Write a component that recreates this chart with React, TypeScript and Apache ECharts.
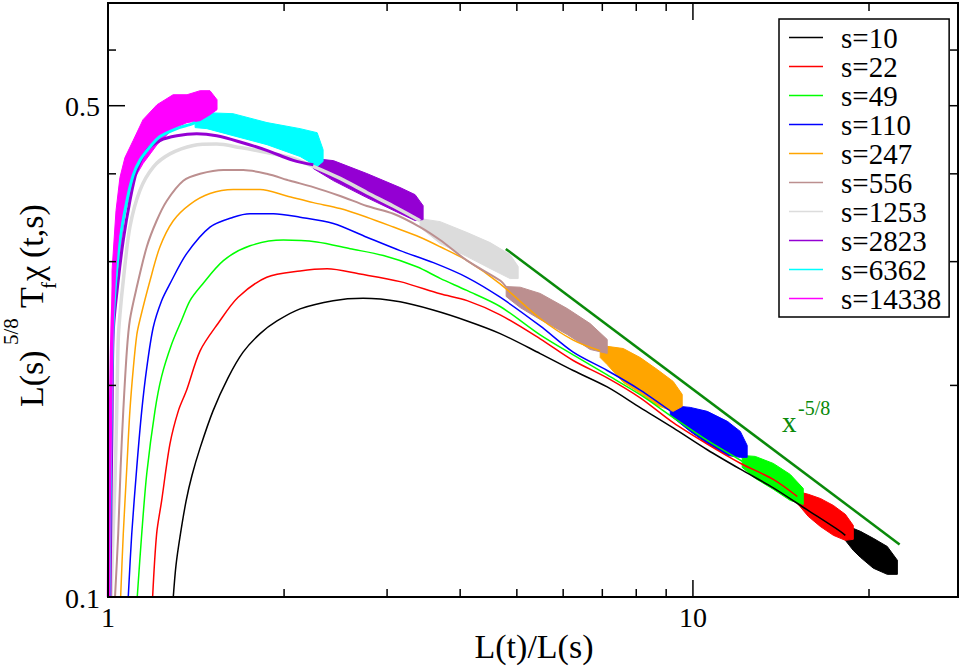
import React, { useEffect, useRef } from 'react';
import * as echarts from 'echarts';

// ---- axes ----
const X_MIN = 1;
const X_MAX = 28.39;
const Y_MIN = 0.1;
const Y_MAX = 0.7;
const xMinorTicks = [2, 3, 4, 5, 6, 7, 8, 9, 20];
const xMajorTicks = [10];
const yMinorTicks = [0.2, 0.3, 0.4, 0.6];
const yMajorTicks = [0.5];
const xTickLabels = [1, 10];
const yTickLabels = [0.1, 0.5];

// ---- series ----
const seriesNames = ['s=10', 's=22', 's=49', 's=110', 's=247', 's=556', 's=1253', 's=2823', 's=6362', 's=14338'];
const seriesColors = ['#000000', '#ff0000', '#00ff00', '#0000ff', '#ffa500', '#bc8f8f', '#dcdcdc', '#9400d3', '#00ffff', '#ff00ff'];

// [x, y] along the smooth part of each curve
const s10Line = [[1.293,0.100],[1.307,0.111],[1.328,0.122],[1.360,0.137],[1.392,0.149],[1.437,0.163],[1.512,0.184],[1.604,0.205],[1.702,0.223],[1.820,0.237],[1.945,0.247],[2.130,0.257],[2.426,0.264],[2.730,0.266],[3.158,0.263],[3.596,0.256],[4.111,0.247],[4.682,0.237],[5.481,0.222],[6.242,0.210],[7.136,0.199],[8.126,0.186],[9.254,0.174],[10.58,0.162],[12.05,0.152],[13.72,0.143],[15.69,0.133],[17.86,0.124],[18.22,0.1224]];
const s22Line = [[1.192,0.100],[1.211,0.123],[1.235,0.137],[1.276,0.165],[1.319,0.184],[1.363,0.197],[1.437,0.224],[1.542,0.245],[1.669,0.267],[1.868,0.285],[2.130,0.291],[2.369,0.293],[2.698,0.288],[3.158,0.281],[3.697,0.270],[4.111,0.264],[4.682,0.252],[5.481,0.233],[6.242,0.217],[7.136,0.205],[8.126,0.192],[9.254,0.177],[10.58,0.165],[12.05,0.155],[13.72,0.147],[15.08,0.139]];
const s49Line = [[1.122,0.100],[1.142,0.123],[1.165,0.150],[1.203,0.184],[1.235,0.206],[1.285,0.229],[1.337,0.248],[1.381,0.264],[1.437,0.276],[1.575,0.301],[1.749,0.316],[1.994,0.322],[2.275,0.320],[2.594,0.313],[2.957,0.306],[3.373,0.295],[3.697,0.284],[4.106,0.273],[4.682,0.259],[5.481,0.236],[6.242,0.221],[7.136,0.207],[8.126,0.194],[9.254,0.180],[10.58,0.167],[12.14,0.156]];
const s110Line = [[1.083,0.100],[1.098,0.123],[1.120,0.153],[1.142,0.184],[1.165,0.212],[1.195,0.242],[1.235,0.264],[1.276,0.279],[1.363,0.308],[1.494,0.336],[1.637,0.347],[1.749,0.351],[1.918,0.351],[2.130,0.347],[2.428,0.340],[2.770,0.325],[3.158,0.311],[3.600,0.299],[4.106,0.285],[4.682,0.267],[5.481,0.243],[6.242,0.223],[7.136,0.210],[8.126,0.197],[9.147,0.184]];
const s247Line = [[1.051,0.100],[1.062,0.123],[1.077,0.153],[1.090,0.184],[1.105,0.212],[1.120,0.236],[1.134,0.248],[1.180,0.282],[1.227,0.315],[1.293,0.343],[1.381,0.362],[1.494,0.375],[1.637,0.380],[1.820,0.380],[2.021,0.372],[2.244,0.364],[2.494,0.357],[2.770,0.347],[3.076,0.336],[3.416,0.325],[3.697,0.315],[4.111,0.301],[4.682,0.279],[5.481,0.249],[6.242,0.232],[6.942,0.224]];
const s556Line = [[1.028,0.100],[1.041,0.123],[1.051,0.153],[1.062,0.184],[1.077,0.224],[1.090,0.248],[1.120,0.276],[1.165,0.315],[1.211,0.343],[1.260,0.366],[1.345,0.391],[1.437,0.400],[1.575,0.405],[1.703,0.405],[1.868,0.400],[2.048,0.391],[2.244,0.383],[2.494,0.372],[2.770,0.360],[3.076,0.351],[3.416,0.336],[3.697,0.322],[4.111,0.301],[4.682,0.282],[4.794,0.276]];
const s1253Line = [[1.012,0.100],[1.020,0.123],[1.028,0.147],[1.035,0.184],[1.041,0.232],[1.048,0.252],[1.062,0.282],[1.090,0.336],[1.134,0.379],[1.195,0.409],[1.276,0.427],[1.399,0.439],[1.534,0.441],[1.682,0.436],[1.868,0.429],[2.048,0.422],[2.242,0.410],[2.494,0.394],[2.773,0.376],[3.072,0.360],[3.416,0.343]];
const s2823Line = [[1.008,0.100],[1.012,0.137],[1.016,0.178],[1.021,0.239],[1.041,0.282],[1.062,0.322],[1.090,0.366],[1.120,0.404],[1.165,0.432],[1.227,0.446],[1.311,0.453],[1.418,0.456],[1.534,0.453],[1.682,0.444],[1.868,0.432],[2.074,0.418],[2.244,0.412]];
const s6362Line = [[1.004,0.100],[1.008,0.137],[1.012,0.178],[1.018,0.232],[1.028,0.273],[1.048,0.322],[1.077,0.366],[1.104,0.398],[1.134,0.418],[1.180,0.437],[1.227,0.452],[1.311,0.464],[1.381,0.470],[1.409,0.473]];
const s14338Line = [[1.002,0.100],[1.004,0.129],[1.008,0.162],[1.012,0.203],[1.016,0.239],[1.022,0.273],[1.032,0.311],[1.048,0.349],[1.069,0.385]];

// [x, lower, upper] envelope of the noisy end of each curve
const s10Band = [[18.22,0.1204,0.1244],[18.80,0.1165,0.1252],[19.33,0.1139,0.1240],[20.34,0.1099,0.1212],[21.49,0.1077,0.1180],[22.36,0.1077,0.1128]];
const s22Band = [[15.08,0.1359,0.1413],[15.75,0.1302,0.1400],[16.51,0.1260,0.1381],[17.38,0.1224,0.1350],[18.22,0.1204,0.1311],[18.80,0.1208,0.1264]];
const s49Band = [[12.14,0.1529,0.1590],[12.78,0.1475,0.1585],[13.72,0.1423,0.1549],[14.67,0.1372,0.1494],[15.44,0.1354,0.1427]];
const s110Band = [[9.147,0.1813,0.1873],[9.894,0.1720,0.1861],[10.58,0.1653,0.1837],[11.45,0.1590,0.1778],[12.05,0.1580,0.1720],[12.38,0.1580,0.1643]];
const s247Band = [[6.942,0.2191,0.2265],[7.136,0.2141,0.2273],[7.600,0.2020,0.2257],[8.126,0.1949,0.2191],[8.689,0.1873,0.2107],[9.254,0.1837,0.2026],[9.587,0.1867,0.1942]];
const s556Band = [[4.794,0.2676,0.2765],[5.066,0.2581,0.2759],[5.481,0.2482,0.2703],[6.096,0.2363,0.2573],[6.673,0.2250,0.2449],[7.136,0.2221,0.2325]];
const s1253Band = [[3.416,0.3357,0.3454],[3.697,0.3183,0.3420],[4.111,0.3050,0.3300],[4.501,0.2933,0.3193],[4.870,0.2838,0.3070],[5.026,0.2838,0.2952]];
const s2823Band = [[2.244,0.4070,0.4205],[2.428,0.3912,0.4177],[2.770,0.3700,0.4004],[3.158,0.3512,0.3824],[3.350,0.3432,0.3736],[3.457,0.3443,0.3604]];
const s6362Band = [[1.409,0.4654,0.4808],[1.476,0.4638,0.4887],[1.636,0.4533,0.4871],[1.870,0.4401,0.4731],[2.130,0.4234,0.4638],[2.278,0.4097,0.4577],[2.332,0.4165,0.4330]];
const s14338Band = [[1.016,0.2394,0.2914],[1.032,0.2820,0.3545],[1.048,0.3081,0.3951],[1.069,0.3508,0.4219],[1.104,0.3912,0.4460],[1.148,0.4137,0.4777],[1.213,0.4401,0.5017],[1.292,0.4638,0.5183],[1.365,0.4731,0.5183],[1.437,0.4761,0.5252],[1.494,0.4855,0.5252],[1.536,0.4936,0.5099]];

const lineData = [s10Line, s22Line, s49Line, s110Line, s247Line, s556Line, s1253Line, s2823Line, s6362Line, s14338Line];
const bandData = [s10Band, s22Band, s49Band, s110Band, s247Band, s556Band, s1253Band, s2823Band, s6362Band, s14338Band];
const lineWidths = [1.5, 1.5, 1.5, 1.5, 1.5, 2, 3.5, 3, 3, 3.5];

// reference power law x^(-5/8)
const guideLine = [[4.787, 0.3128], [22.56, 0.1188]];
const guideColor = '#0a8a0a';

const SERIF = 'Liberation Serif';

function txt(text: string, size: number, fill: string, align: string, extra: any = {}) {
  return { text, fontFamily: SERIF, fontSize: size, fill, align, verticalAlign: 'middle', ...extra };
}

function bandRenderer(band: number[][], color: string) {
  return (params: any, api: any) => {
    if (params.dataIndex !== 0) return null;
    const top = band.map((d) => api.coord([d[0], d[2]]));
    const bot = band.map((d) => api.coord([d[0], d[1]])).reverse();
    return {
      type: 'polygon',
      shape: { points: top.concat(bot) },
      style: { fill: color, stroke: color, lineWidth: 1 },
    };
  };
}

function xTickRenderer(len: number) {
  return (params: any, api: any) => {
    const v = api.value(0);
    const b = api.coord([v, Y_MIN]);
    const t = api.coord([v, Y_MAX]);
    const st = { stroke: '#000', lineWidth: 1.5 };
    return {
      type: 'group',
      children: [
        { type: 'line', shape: { x1: b[0], y1: b[1], x2: b[0], y2: b[1] - len }, style: st },
        { type: 'line', shape: { x1: t[0], y1: t[1], x2: t[0], y2: t[1] + len }, style: st },
      ],
    };
  };
}

function yTickRenderer(len: number) {
  return (params: any, api: any) => {
    const v = api.value(1);
    const l = api.coord([X_MIN, v]);
    const r = api.coord([X_MAX, v]);
    const st = { stroke: '#000', lineWidth: 1.5 };
    return {
      type: 'group',
      children: [
        { type: 'line', shape: { x1: l[0], y1: l[1], x2: l[0] + len, y2: l[1] }, style: st },
        { type: 'line', shape: { x1: r[0], y1: r[1], x2: r[0] - len, y2: r[1] }, style: st },
      ],
    };
  };
}

function xLabelRenderer(params: any, api: any) {
  const v = api.value(0);
  const p = api.coord([v, Y_MIN]);
  return { type: 'text', x: p[0], y: p[1] + 20, style: txt(String(v), 28, '#000', 'center') };
}

function yLabelRenderer(params: any, api: any) {
  const v = api.value(1);
  const p = api.coord([X_MIN, v]);
  return { type: 'text', x: p[0] - 8, y: p[1] + 1, style: txt(String(v), 28, '#000', 'right') };
}

function buildOption() {
  const series: any[] = [];
  seriesNames.forEach((name, i) => {
    series.push({
      name,
      type: 'line',
      data: lineData[i],
      color: seriesColors[i],
      showSymbol: false,
      symbol: 'none',
      smooth: 0.3,
      lineStyle: { color: seriesColors[i], width: lineWidths[i] },
      silent: true,
    });
    series.push({
      name: name + ' (noisy)',
      type: 'custom',
      data: bandData[i],
      encode: { x: 0, y: [1, 2] },
      renderItem: bandRenderer(bandData[i], seriesColors[i]),
      silent: true,
    });
  });
  series.push({
    name: 'x^-5/8',
    type: 'line',
    data: guideLine,
    showSymbol: false,
    symbol: 'none',
    lineStyle: { color: guideColor, width: 2.5 },
    color: guideColor,
    silent: true,
  });
  series.push({ type: 'custom', name: 'xMinor', data: xMinorTicks.map((v) => [v, Y_MIN]), renderItem: xTickRenderer(8), silent: true, z: 5 });
  series.push({ type: 'custom', name: 'xMajor', data: xMajorTicks.map((v) => [v, Y_MIN]), renderItem: xTickRenderer(17), silent: true, z: 5 });
  series.push({ type: 'custom', name: 'yMinor', data: yMinorTicks.map((v) => [X_MIN, v]), renderItem: yTickRenderer(8), silent: true, z: 5 });
  series.push({ type: 'custom', name: 'yMajor', data: yMajorTicks.map((v) => [X_MIN, v]), renderItem: yTickRenderer(17), silent: true, z: 5 });
  series.push({ type: 'custom', name: 'xLabels', data: xTickLabels.map((v) => [v, Y_MIN]), renderItem: xLabelRenderer, silent: true, z: 5 });
  series.push({ type: 'custom', name: 'yLabels', data: yTickLabels.map((v) => [X_MIN, v]), renderItem: yLabelRenderer, silent: true, z: 5 });

  const hiddenAxis = {
    axisLine: { show: false },
    axisTick: { show: false },
    axisLabel: { show: false },
    splitLine: { show: false },
    minorTick: { show: false },
    minorSplitLine: { show: false },
  };

  return {
    animation: false,
    backgroundColor: '#ffffff',
    textStyle: { fontFamily: SERIF },
    grid: { left: 108, right: 3, top: 3, bottom: 71, show: true, borderColor: '#000', borderWidth: 2, backgroundColor: 'transparent', z: 6 },
    xAxis: { type: 'log', logBase: 10, min: X_MIN, max: X_MAX, ...hiddenAxis },
    yAxis: { type: 'log', logBase: 10, min: Y_MIN, max: Y_MAX, ...hiddenAxis },
    legend: {
      data: seriesNames.map((n) => ({ name: n, icon: 'rect' })),
      orient: 'vertical',
      left: 779,
      top: 19,
      itemWidth: 34,
      itemHeight: 1.5,
      itemGap: 0,
      padding: [4, 8, 4, 10],
      borderColor: '#000',
      borderWidth: 1.5,
      backgroundColor: '#ffffff',
      selectedMode: false,
      textStyle: { fontFamily: SERIF, fontSize: 29, color: '#000', lineHeight: 29, padding: [0, 0, 0, 13] },
      z: 10,
    },
    graphic: [
      { type: 'text', x: 534, y: 646, style: txt('L(t)/L(s)', 34, '#000', 'center') },
      {
        type: 'group',
        x: 43,
        y: 407,
        rotation: Math.PI / 2,
        children: [
          { type: 'text', x: 0, y: -11.5, style: txt('L(s)', 34, '#000', 'left') },
          { type: 'text', x: 62, y: -32, style: txt('5/8', 21, '#000', 'left') },
          { type: 'text', x: 99, y: -11.5, style: txt('T', 34, '#000', 'left') },
          { type: 'text', x: 118, y: 6, style: txt('f', 21, '#000', 'left') },
          { type: 'text', x: 126, y: -11.5, style: txt('χ', 34, '#000', 'left') },
          { type: 'text', x: 149, y: -11.5, style: txt('(t,s)', 34, '#000', 'left') },
        ],
      },
      { type: 'text', x: 782, y: 422, style: txt('x', 29, guideColor, 'left') },
      { type: 'text', x: 798, y: 408, style: txt('-5/8', 20, guideColor, 'left') },
    ],
    series,
  };
}

export default function App() {
  const ref = useRef<HTMLDivElement>(null);
  useEffect(() => {
    document.body.style.margin = '0';
    const chart = echarts.init(ref.current as HTMLDivElement, null, { renderer: 'svg' });
    chart.setOption(buildOption() as any);
    return () => chart.dispose();
  }, []);
  return <div ref={ref} style={{ width: 961, height: 668 }} />;
}
